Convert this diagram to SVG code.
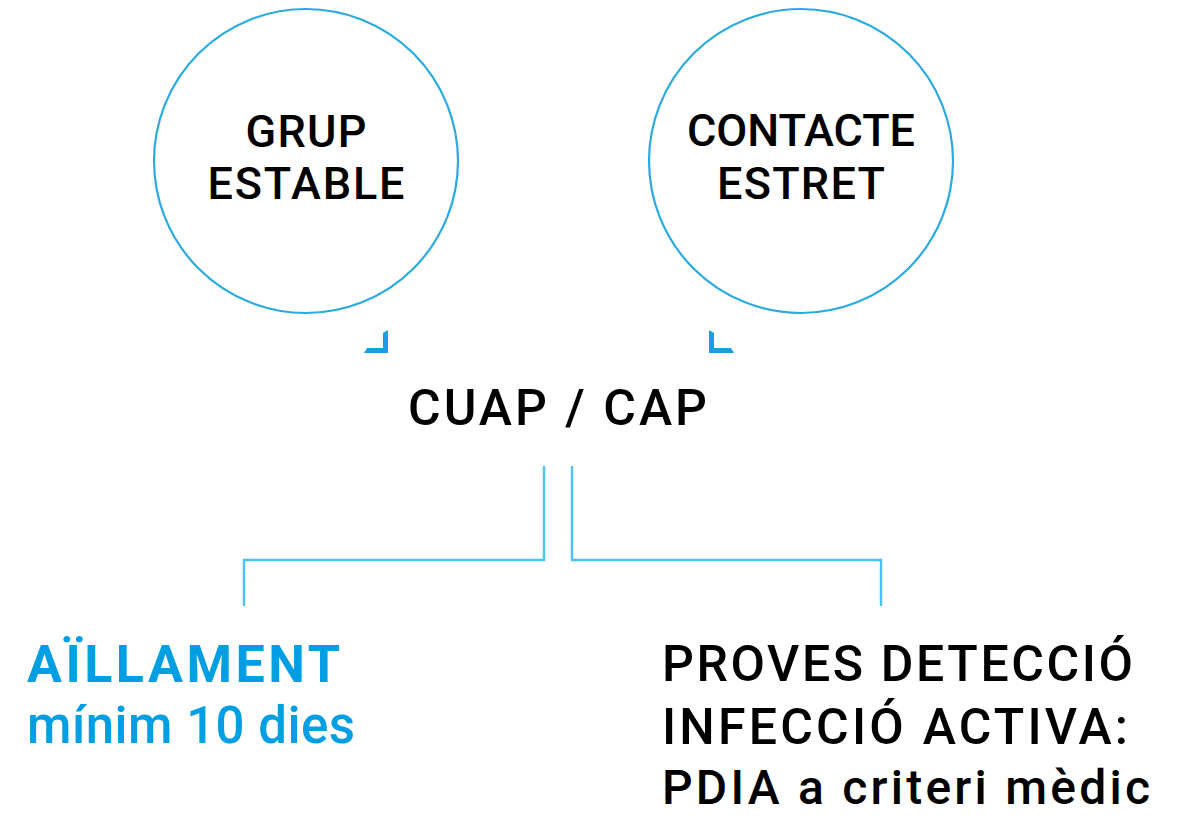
<svg xmlns="http://www.w3.org/2000/svg" width="1182" height="816" viewBox="0 0 1182 816">
<style>
.circ{fill:#ffffff;stroke:#29abe2;stroke-width:2.2}
.t{font-family:Roboto,"Liberation Sans",Arial,sans-serif;font-weight:500;fill:#000000}
.blue{font-family:Roboto,"Liberation Sans",Arial,sans-serif;font-weight:500;fill:#009fe3}
.blue.b{font-weight:700}
.conn{fill:none;stroke:#4cc2f4;stroke-width:2.4}
.arrow{fill:#1a9ee0}
</style>
<rect width="1182" height="816" fill="#ffffff"/>
<g id="node-grup">
<circle class="circ" cx="306" cy="161" r="152"/>
<text class="t" x="306" y="147" font-size="45" text-anchor="middle" textLength="121" lengthAdjust="spacing">GRUP</text>
<text class="t" x="306" y="199" font-size="45" text-anchor="middle" textLength="197" lengthAdjust="spacing">ESTABLE</text>
</g>
<g id="node-contacte">
<circle class="circ" cx="801" cy="161" r="152"/>
<text class="t" x="801" y="146" font-size="45" text-anchor="middle" textLength="228" lengthAdjust="spacing">CONTACTE</text>
<text class="t" x="801" y="199" font-size="45" text-anchor="middle" textLength="168" lengthAdjust="spacing">ESTRET</text>
</g>
<g id="node-cuap">
<text class="t" x="557.5" y="425" font-size="50" text-anchor="middle" textLength="299" lengthAdjust="spacing">CUAP / CAP</text>
</g>
<g id="node-aillament">
<text class="blue b" x="27" y="682" font-size="52" textLength="313" lengthAdjust="spacing">AÏLLAMENT</text>
<text class="blue" x="27" y="743" font-size="51" textLength="328" lengthAdjust="spacing">mínim 10 dies</text>
</g>
<g id="node-proves">
<text class="t" x="662" y="681" font-size="50" textLength="471" lengthAdjust="spacing">PROVES DETECCIÓ</text>
<text class="t" x="662" y="744" font-size="50" textLength="466" lengthAdjust="spacing">INFECCIÓ ACTIVA:</text>
<text class="t" x="662" y="804" font-size="48" textLength="488" lengthAdjust="spacing">PDIA a criteri mèdic</text>
</g>
<g id="connectors">
<polygon class="arrow" points="383,333 388,330 388,353 364,353 367,348 383,348"/>
<polygon class="arrow" points="714,333 709,330 709,353 734,353 731,348 714,348"/>
<polyline class="conn" points="544,466 544,560 244,560 244,606"/>
<polyline class="conn" points="572,466 572,560 881,560 881,606"/>
</g>
</svg>
